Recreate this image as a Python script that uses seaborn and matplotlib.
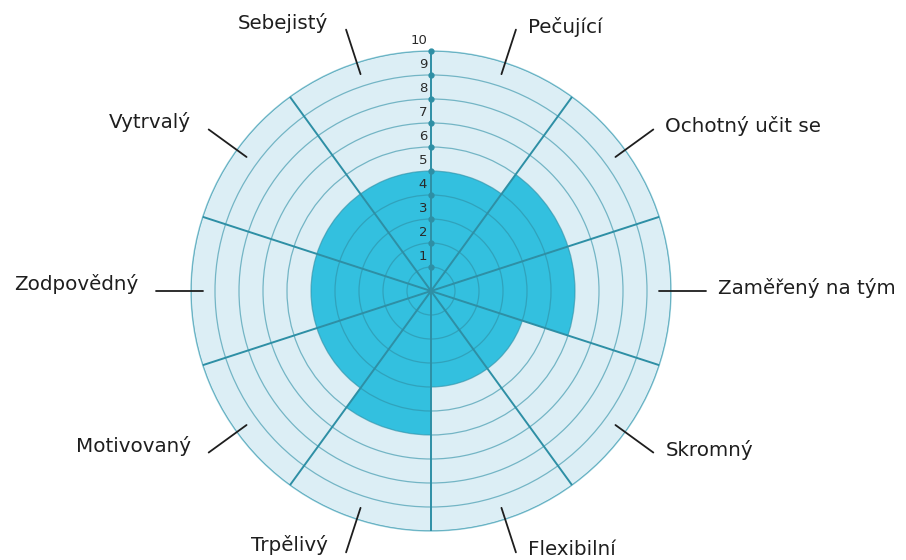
import numpy as np
import matplotlib
matplotlib.use("Agg")
import matplotlib.pyplot as plt
import seaborn as sns

# Data (clockwise from the top)
categories = ["Pečující", "Ochotný učit se", "Zaměřený na tým", "Skromný", "Flexibilní",
              "Trpělivý", "Motivovaný", "Zodpovědný", "Vytrvalý", "Sebejistý"]
values = [5, 6, 6, 4, 4, 6, 5, 5, 5, 5]
r_ticks = [1, 2, 3, 4, 5, 6, 7, 8, 9, 10]

sns.set_style("white")
plt.rcParams['font.family'] = ['DejaVu Sans']

bg_color = "#DCEEF5"
fill_color = "#33C0DF"
line_color = "#2E8FA5"
text_color = "#1E1E1E"

n = len(categories)
width = 2 * np.pi / n
centers = np.arange(n) * width + width / 2
edges = np.arange(n) * width

fig = plt.figure(figsize=(9.06, 5.6), dpi=100)
ax = fig.add_axes([191 / 906, 29 / 560, 480 / 906, 480 / 560], projection="polar")
ax.set_theta_zero_location("N")
ax.set_theta_direction(-1)
ax.set_facecolor(bg_color)

ax.bar(centers, values, width=width, color=fill_color, edgecolor="none", zorder=1)

ax.set_ylim(0, 10)
ax.set_yticks(r_ticks)
ax.set_yticklabels([])
ax.set_xticks(edges)
ax.set_xticklabels([])
ax.set_axisbelow(False)
ax.yaxis.grid(True, color=line_color, alpha=0.6, linewidth=0.9)
ax.xaxis.grid(True, color=line_color, linewidth=1.4)
ax.spines["polar"].set_color("#8CC8D6")
ax.spines["polar"].set_linewidth(1.0)

# scale dots and numbers on the vertical axis
ax.plot(np.zeros(len(r_ticks)), r_ticks, "o", color=line_color, markersize=3.5,
        zorder=4, clip_on=False)
for r in r_ticks:
    ax.annotate(str(r), xy=(0, r), xytext=(-4, 10), textcoords="offset pixels",
                ha="right", va="center", fontsize=9.5, color="#2A2A2A")

# category labels with leader lines
for theta, label in zip(centers, categories):
    ax.plot([theta, theta], [9.5, 11.45], color=text_color, linewidth=1.3, clip_on=False, zorder=5)
    right = np.sin(theta) > 0
    dx = 12 if right else -18
    dy = 3 if right else 7
    ax.annotate(label, xy=(theta, 11.45), xytext=(dx, dy), textcoords="offset pixels",
                ha="left" if right else "right", va="center", fontsize=14.3,
                color=text_color, annotation_clip=False)

fig.savefig("out.png", dpi=100, facecolor="white")
